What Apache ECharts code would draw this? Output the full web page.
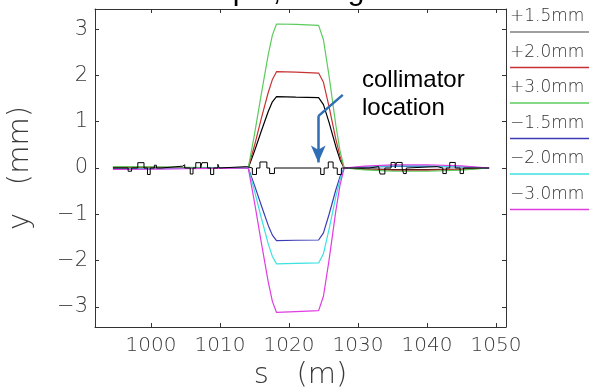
<!DOCTYPE html>
<html>
<head>
<meta charset="utf-8">
<script src="https://cdn.jsdelivr.net/npm/echarts@6/dist/echarts.min.js"></script>
<style>html,body{margin:0;padding:0;background:#fff;}#c{width:589px;height:392px;}</style>
</head>
<body>
<div id="c"></div>
<script>
// ---- data ----
const seriesNames = ['+1.5mm', '+2.0mm', '+3.0mm', '\u22121.5mm', '\u22122.0mm', '\u22123.0mm'];
const sGrid = [994.5, 1000, 1005, 1010, 1013, 1014.1, 1015, 1016, 1017, 1017.6, 1018.2, 1021, 1024.3, 1025, 1025.8, 1026.8, 1027.4, 1028, 1031, 1035, 1040, 1045, 1049];
const yP15 = [0.015, 0.012, 0.008, 0.004, 0.002, 0, 0.36, 0.80, 1.22, 1.43, 1.54, 1.53, 1.52, 1.37, 0.99, 0.46, 0.18, 0, -0.02, -0.033, -0.035, -0.022, 0];
const yP20 = [0.02, 0.016, 0.011, 0.005, 0.003, 0, 0.48, 1.07, 1.63, 1.91, 2.08, 2.07, 2.05, 1.85, 1.33, 0.62, 0.25, 0, -0.027, -0.045, -0.047, -0.03, 0];
const yP30 = [0.03, 0.024, 0.016, 0.008, 0.004, 0, 0.72, 1.60, 2.45, 2.87, 3.11, 3.10, 3.08, 2.77, 2.00, 0.92, 0.37, 0, -0.04, -0.067, -0.07, -0.045, 0];
const yM15 = [-0.015, -0.012, -0.008, -0.004, -0.002, 0, -0.37, -0.81, -1.24, -1.45, -1.57, -1.56, -1.555, -1.40, -1.01, -0.47, -0.19, 0, 0.02, 0.033, 0.035, 0.022, 0];
const yM20 = [-0.02, -0.016, -0.011, -0.005, -0.003, 0, -0.49, -1.08, -1.64, -1.91, -2.07, -2.06, -2.05, -1.85, -1.33, -0.62, -0.25, 0, 0.027, 0.045, 0.047, 0.03, 0];
const yM30 = [-0.03, -0.024, -0.016, -0.008, -0.004, 0, -0.73, -1.61, -2.46, -2.88, -3.12, -3.10, -3.08, -2.77, -2.00, -0.92, -0.37, 0, 0.04, 0.067, 0.07, 0.045, 0];
const seriesValues = [yP15, yP20, yP30, yM15, yM20, yM30];
const seriesColors = ['#000000', '#c83232', '#5ccb5c', '#3c3cb4', '#3ce1e1', '#e03ce0'];
const legendColors = ['#808080', '#c83232', '#5ccb5c', '#3c3cb4', '#3ce1e1', '#e03ce0'];
// element profile: [start s, end s, height]
const profileStart = 994.5, profileEnd = 1049;
const profileElements = [
  [996.7, 997.2, -0.07], [998.1, 999.0, 0.115], [999.5, 999.9, -0.14], [1000.5, 1000.8, 0.06],
  [1001.5, 1004.6, 0.04], [1004.6, 1004.9, 0.07], [1005.7, 1006.1, -0.13], [1006.5, 1007.2, 0.115],
  [1007.4, 1008.2, 0.115], [1008.65, 1009.1, -0.14], [1009.7, 1009.9, 0.08], [1010.0, 1013.9, 0.03],
  [1014.7, 1015.3, -0.14], [1015.8, 1016.8, 0.13], [1017.2, 1017.9, -0.12],
  [1024.6, 1025.1, -0.14], [1025.7, 1026.4, 0.13], [1027.0, 1027.6, -0.14],
  [1031.6, 1033.0, 0.03], [1033.2, 1033.9, -0.13], [1034.8, 1035.4, 0.12], [1035.6, 1036.4, 0.12],
  [1036.6, 1037.0, -0.12], [1037.2, 1041.5, 0.03], [1042.3, 1042.8, -0.12], [1043.3, 1044.1, 0.12],
  [1044.8, 1045.3, -0.12]
];
const xTicks = [1000, 1010, 1020, 1030, 1040, 1050];
const yTicks = [-3, -2, -1, 0, 1, 2, 3];
const xRange = [991.9, 1051.45];
const yRange = [-3.434, 3.434];
const arrowPath = [[1027.8, 1.58], [1024.25, 1.12], [1024.25, 0.12]];
const annotationText = 'collimator\nlocation';
const titleText = 'Simple, 0 degree';

// ---- chart ----
const FONT = 'DejaVu Sans';
const axisColor = '#333';
const chart = echarts.init(document.getElementById('c'), null, {renderer: 'canvas'});

const profileData = [[profileStart, 0]];
profileElements.forEach(e => {
  profileData.push([e[0], 0], [e[0], e[2]], [e[1], e[2]], [e[1], 0]);
});
profileData.push([profileEnd, 0]);

const series = seriesNames.map((n, i) => ({
  name: n, type: 'line', showSymbol: false, symbol: 'none',
  data: sGrid.map((s, k) => [s, seriesValues[i][k]]),
  lineStyle: {color: seriesColors[i], width: 1.2},
  itemStyle: {color: seriesColors[i]},
  z: 2
}));
series.push({
  name: 'profile', type: 'line', symbol: 'none', data: profileData,
  lineStyle: {color: '#000', width: 1}, z: 3
});
series.push({
  name: 'arrow', type: 'line', symbol: 'none', data: [], z: 5,
  markLine: {
    silent: true, animation: false,
    label: {show: false},
    lineStyle: {color: '#2f6db4', width: 2.5, type: 'solid'},
    symbolSize: [11, 17],
    data: [
      [{coord: arrowPath[0], symbol: 'none'}, {coord: arrowPath[1], symbol: 'none'}],
      [{coord: arrowPath[1], symbol: 'none'}, {coord: arrowPath[2], symbol: 'arrow'}]
    ]
  }
});

const tickStyle = {lineStyle: {color: axisColor, width: 1}};
const labelFont = {fontFamily: FONT, fontWeight: 200, color: '#3a3a3a'};

const option = {
  animation: false,
  backgroundColor: '#fff',
  title: {text: titleText, left: 'center', top: -28,
    textStyle: {fontFamily: 'Liberation Sans', fontSize: 30, fontWeight: 'normal', color: '#000'}},
  grid: {left: 95, right: 83, top: 9, bottom: 65, containLabel: false, outerBoundsMode: 'none'},
  legend: [
    {data: seriesNames.map(n => ({name: n, icon: 'none'})), orient: 'vertical', left: 505, top: 7,
     itemWidth: 0, itemHeight: 20, itemGap: 15.5, padding: 0, selectedMode: false,
     textStyle: {fontFamily: FONT, fontWeight: 200, fontSize: 17, lineHeight: 20, color: '#333'}},
    {data: seriesNames.map((n, i) => ({name: n, itemStyle: {color: legendColors[i]}})), orient: 'vertical',
     left: 510, top: 22, icon: 'rect', itemWidth: 80, itemHeight: 1.5, itemGap: 15.5, padding: 0,
     selectedMode: false, formatter: () => ' ',
     textStyle: {fontSize: 16, lineHeight: 20}}
  ],
  xAxis: [
    {type: 'value', min: xRange[0], max: xRange[1], position: 'bottom',
     axisLine: {show: true, onZero: false, lineStyle: {color: axisColor, width: 1}},
     axisTick: Object.assign({show: true, inside: true, length: 4, customValues: xTicks}, tickStyle),
     axisLabel: Object.assign({customValues: xTicks, fontSize: 20, margin: 9, formatter: v => String(Math.round(v))}, labelFont),
     splitLine: {show: false},
     name: 's   (m)', nameLocation: 'middle', nameGap: 34,
     nameTextStyle: {fontFamily: FONT, fontWeight: 200, fontSize: 29, color: '#3a3a3a'}},
    {type: 'value', min: xRange[0], max: xRange[1], position: 'top',
     axisLine: {show: true, onZero: false, lineStyle: {color: axisColor, width: 1}},
     axisTick: Object.assign({show: true, inside: true, length: 4, customValues: xTicks}, tickStyle),
     axisLabel: {show: false}, splitLine: {show: false}}
  ],
  yAxis: [
    {type: 'value', min: yRange[0], max: yRange[1], position: 'left',
     axisLine: {show: true, onZero: false, lineStyle: {color: axisColor, width: 1}},
     axisTick: Object.assign({show: true, inside: true, length: 4, customValues: yTicks}, tickStyle),
     axisLabel: Object.assign({customValues: yTicks, fontSize: 21, margin: 7,
       formatter: v => { const r = Math.round(v); return r < 0 ? '\u2212' + Math.abs(r) : String(r); }}, labelFont),
     splitLine: {show: false},
     name: 'y   (mm)', nameLocation: 'middle', nameGap: 60, nameRotate: 90,
     nameTextStyle: {fontFamily: FONT, fontWeight: 200, fontSize: 29, color: '#3a3a3a'}},
    {type: 'value', min: yRange[0], max: yRange[1], position: 'right',
     axisLine: {show: true, onZero: false, lineStyle: {color: axisColor, width: 1}},
     axisTick: Object.assign({show: true, inside: true, length: 4, customValues: yTicks}, tickStyle),
     axisLabel: {show: false}, splitLine: {show: false}}
  ],
  graphic: [
    {type: 'text', left: 362, top: 66, silent: true,
     style: {text: annotationText, fontFamily: 'Liberation Sans', fontSize: 24, lineHeight: 28, fill: '#000'}}
  ],
  series: series
};
chart.setOption(option);
</script>
</body>
</html>
